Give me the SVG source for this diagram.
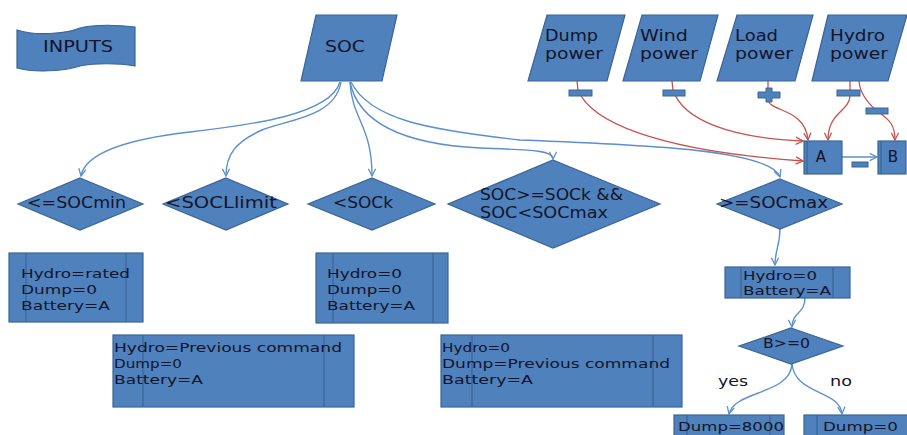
<svg xmlns="http://www.w3.org/2000/svg" width="907" height="435" viewBox="0 0 907 435">
<defs>
<style>
.shape{fill:#4f81bd;stroke:#3a6496;stroke-width:1.2}
.inner{fill:none;stroke:#3a6496;stroke-width:1.2}
.t{font-family:"DejaVu Sans",Verdana,sans-serif;fill:#14142a;dominant-baseline:central}
.tb{font-size:13px}
.td{font-size:15px}
.tp{font-size:15px}
.blue{fill:none;stroke:#5b8fd0;stroke-width:1.4}
.red{fill:none;stroke:#c9514c;stroke-width:1.3}
.sign{fill:#4f81bd;stroke:#3a6496;stroke-width:1}
</style>
<marker id="ab" viewBox="0 0 10 10" refX="9" refY="5" markerWidth="9" markerHeight="9" markerUnits="userSpaceOnUse" orient="auto">
<path d="M1,1 L9,5 L1,9" fill="none" stroke="#5b8fd0" stroke-width="1.4"/>
</marker>
<marker id="ar" viewBox="0 0 10 10" refX="9" refY="5" markerWidth="9" markerHeight="9" markerUnits="userSpaceOnUse" orient="auto">
<path d="M1,1 L9,5 L1,9" fill="none" stroke="#c9514c" stroke-width="1.4"/>
</marker>
</defs>
<rect width="907" height="435" fill="#ffffff"/>

<g id="connectors">
<path class="blue" marker-end="url(#ab)" d="M340,82 C330,115 250,125 190,132 C120,140 85,155 81,176"/>
<path class="blue" marker-end="url(#ab)" d="M341,82 C335,118 285,120 262,130 C235,142 226,155 226,176"/>
<path class="blue" marker-end="url(#ab)" d="M350,82 C352,120 372,125 372,176"/>
<path class="blue" marker-end="url(#ab)" d="M350,82 C360,130 420,145 480,148 C530,150 553,150 553,159"/>
<path class="blue" marker-end="url(#ab)" d="M351,82 C370,120 430,130 520,140 C650,145 770,150 780,177"/>
<path class="blue" marker-end="url(#ab)" d="M780,229 C780,245 775,250 775,265"/>
<path class="blue" marker-end="url(#ab)" d="M805,298 C805,314 792,312 792,327"/>
<path class="blue" marker-end="url(#ab)" d="M792,364 C790,395 735,390 729,414"/>
<path class="blue" marker-end="url(#ab)" d="M792,364 C795,395 840,390 842,414"/>
<path class="blue" marker-end="url(#ab)" d="M842,157 L877,157"/>
<path class="red" marker-end="url(#ar)" d="M577,81 L578,90 C590,120 650,150 803,161"/>
<path class="red" marker-end="url(#ar)" d="M672,81 L673,90 C683,120 730,138 803,141"/>
<path class="red" marker-end="url(#ar)" d="M768,81 L768,100 C770,112 805,108 808,140"/>
<path class="red" marker-end="url(#ar)" d="M850,81 L850,96 C849,112 828,112 828,140"/>
<path class="red" marker-end="url(#ar)" d="M859,81 C860,95 870,105 877,111 C890,120 895,125 895,140"/>
<rect class="sign" x="569" y="90" width="23" height="6"/>
<rect class="sign" x="663" y="90" width="22" height="6"/>
<path class="sign" d="M766,88 H772 V92 H780 V98 H772 V102 H766 V98 H758 V92 H766 Z"/>
<rect class="sign" x="837" y="90" width="23" height="6"/>
<rect class="sign" x="866" y="108" width="22" height="6"/>
<rect class="sign" x="852" y="162" width="16" height="5"/>
</g>

<g id="inputs">
<path class="shape" d="M17,30 C35,36 65,34 80,28 C95,24 120,25 135,27 L135,66 C118,63 95,63 80,66 C65,71 35,73 17,68 Z"/>
<text class="t" x="43" y="46" font-size="16" textLength="70" lengthAdjust="spacingAndGlyphs">INPUTS</text>
</g>

<g id="soc">
<path class="shape" d="M316,15 H397 L382,81 H301 Z"/>
<text class="t" x="325" y="46" font-size="16" textLength="40" lengthAdjust="spacingAndGlyphs">SOC</text>
</g>

<g id="dump-power">
<path class="shape" d="M547,15 H625 L607,81 H528 Z"/>
<text class="t tp" x="545" y="36" textLength="53" lengthAdjust="spacingAndGlyphs">Dump</text>
<text class="t tp" x="545" y="54" textLength="58" lengthAdjust="spacingAndGlyphs">power</text>
</g>

<g id="wind-power">
<path class="shape" d="M642,15 H718 L700,81 H623 Z"/>
<text class="t tp" x="640" y="36" textLength="48" lengthAdjust="spacingAndGlyphs">Wind</text>
<text class="t tp" x="640" y="54" textLength="58" lengthAdjust="spacingAndGlyphs">power</text>
</g>

<g id="load-power">
<path class="shape" d="M737,15 H813 L795,81 H717 Z"/>
<text class="t tp" x="735" y="36" textLength="43" lengthAdjust="spacingAndGlyphs">Load</text>
<text class="t tp" x="735" y="54" textLength="58" lengthAdjust="spacingAndGlyphs">power</text>
</g>

<g id="hydro-power">
<path class="shape" d="M828,15 H907 L888,81 H812 Z"/>
<text class="t tp" x="830" y="36" textLength="55" lengthAdjust="spacingAndGlyphs">Hydro</text>
<text class="t tp" x="830" y="54" textLength="58" lengthAdjust="spacingAndGlyphs">power</text>
</g>

<g id="node-a">
<rect class="shape" x="804" y="141" width="38" height="33"/>
<line class="inner" x1="807" y1="141" x2="807" y2="174"/>
<text class="t" x="821" y="157" font-size="15" text-anchor="middle">A</text>
</g>

<g id="node-b">
<rect class="shape" x="878" y="141" width="28" height="33"/>
<line class="inner" x1="881" y1="141" x2="881" y2="174"/>
<text class="t" x="893" y="157" font-size="15" text-anchor="middle">B</text>
</g>

<g id="d-socmin">
<path class="shape" d="M80,178 L143,204 L80,230 L18,204 Z"/>
<text class="t td" x="27" y="203" textLength="99" lengthAdjust="spacingAndGlyphs">&lt;=SOCmin</text>
</g>

<g id="d-socllimit">
<path class="shape" d="M226,178 L288,204 L226,230 L163,204 Z"/>
<text class="t td" x="165" y="203" textLength="112" lengthAdjust="spacingAndGlyphs">&lt;SOCLlimit</text>
</g>

<g id="d-sock">
<path class="shape" d="M372,178 L435,204 L372,230 L308,204 Z"/>
<text class="t td" x="333" y="203" textLength="60" lengthAdjust="spacingAndGlyphs">&lt;SOCk</text>
</g>

<g id="d-sock-socmax">
<path class="shape" d="M553,160 L660,204 L553,248 L448,204 Z"/>
<text class="t td" x="480" y="195" textLength="143" lengthAdjust="spacingAndGlyphs">SOC&gt;=SOCk &amp;&amp;</text>
<text class="t td" x="480" y="213" textLength="128" lengthAdjust="spacingAndGlyphs">SOC&lt;SOCmax</text>
</g>

<g id="d-socmax">
<path class="shape" d="M780,179 L842,204 L780,229 L717,204 Z"/>
<text class="t td" x="719" y="203" textLength="109" lengthAdjust="spacingAndGlyphs">&gt;=SOCmax</text>
</g>

<g id="box-rated">
<rect class="shape" x="9" y="253" width="134" height="69"/>
<line class="inner" x1="26" y1="253" x2="26" y2="322"/>
<line class="inner" x1="126" y1="253" x2="126" y2="322"/>
<text class="t tb" x="21" y="273" textLength="109" lengthAdjust="spacingAndGlyphs">Hydro=rated</text>
<text class="t tb" x="21" y="289" textLength="76" lengthAdjust="spacingAndGlyphs">Dump=0</text>
<text class="t tb" x="21" y="305" textLength="89" lengthAdjust="spacingAndGlyphs">Battery=A</text>
</g>

<g id="box-sock">
<rect class="shape" x="316" y="253" width="132" height="70"/>
<line class="inner" x1="333" y1="253" x2="333" y2="323"/>
<line class="inner" x1="433" y1="253" x2="433" y2="323"/>
<text class="t tb" x="327" y="273" textLength="75" lengthAdjust="spacingAndGlyphs">Hydro=0</text>
<text class="t tb" x="327" y="289" textLength="75" lengthAdjust="spacingAndGlyphs">Dump=0</text>
<text class="t tb" x="327" y="305" textLength="88" lengthAdjust="spacingAndGlyphs">Battery=A</text>
</g>

<g id="box-prev-hydro">
<rect class="shape" x="113" y="335" width="241" height="72"/>
<line class="inner" x1="143" y1="335" x2="143" y2="407"/>
<line class="inner" x1="324" y1="335" x2="324" y2="407"/>
<text class="t tb" x="114" y="347" textLength="228" lengthAdjust="spacingAndGlyphs">Hydro=Previous command</text>
<text class="t tb" x="114" y="363" textLength="68" lengthAdjust="spacingAndGlyphs">Dump=0</text>
<text class="t tb" x="114" y="379" textLength="89" lengthAdjust="spacingAndGlyphs">Battery=A</text>
</g>

<g id="box-prev-dump">
<rect class="shape" x="441" y="335" width="241" height="72"/>
<line class="inner" x1="472" y1="335" x2="472" y2="407"/>
<line class="inner" x1="653" y1="335" x2="653" y2="407"/>
<text class="t tb" x="442" y="347" textLength="68" lengthAdjust="spacingAndGlyphs">Hydro=0</text>
<text class="t tb" x="442" y="363" textLength="228" lengthAdjust="spacingAndGlyphs">Dump=Previous command</text>
<text class="t tb" x="442" y="379" textLength="91" lengthAdjust="spacingAndGlyphs">Battery=A</text>
</g>

<g id="box-socmax">
<rect class="shape" x="725" y="267" width="125" height="31"/>
<line class="inner" x1="741" y1="267" x2="741" y2="298"/>
<line class="inner" x1="833" y1="267" x2="833" y2="298"/>
<text class="t tb" x="743" y="275" textLength="74" lengthAdjust="spacingAndGlyphs">Hydro=0</text>
<text class="t tb" x="743" y="290" textLength="88" lengthAdjust="spacingAndGlyphs">Battery=A</text>
</g>

<g id="d-b">
<path class="shape" d="M791,328 L843,346 L791,364 L739,346 Z"/>
<text class="t" x="763" y="343" font-size="14" textLength="47" lengthAdjust="spacingAndGlyphs">B&gt;=0</text>
</g>

<text class="t" x="718" y="381" font-size="14" textLength="30" lengthAdjust="spacingAndGlyphs">yes</text>
<text class="t" x="830" y="381" font-size="14" textLength="22" lengthAdjust="spacingAndGlyphs">no</text>

<g id="box-dump8000">
<rect class="shape" x="674" y="415" width="110" height="30"/>
<line class="inner" x1="687" y1="415" x2="687" y2="445"/>
<line class="inner" x1="770" y1="415" x2="770" y2="445"/>
<text class="t tb" x="678" y="426" textLength="106" lengthAdjust="spacingAndGlyphs">Dump=8000</text>
</g>

<g id="box-dump0">
<rect class="shape" x="804" y="415" width="110" height="30"/>
<line class="inner" x1="817" y1="415" x2="817" y2="445"/>
<text class="t tb" x="823" y="426" textLength="75" lengthAdjust="spacingAndGlyphs">Dump=0</text>
</g>
</svg>
